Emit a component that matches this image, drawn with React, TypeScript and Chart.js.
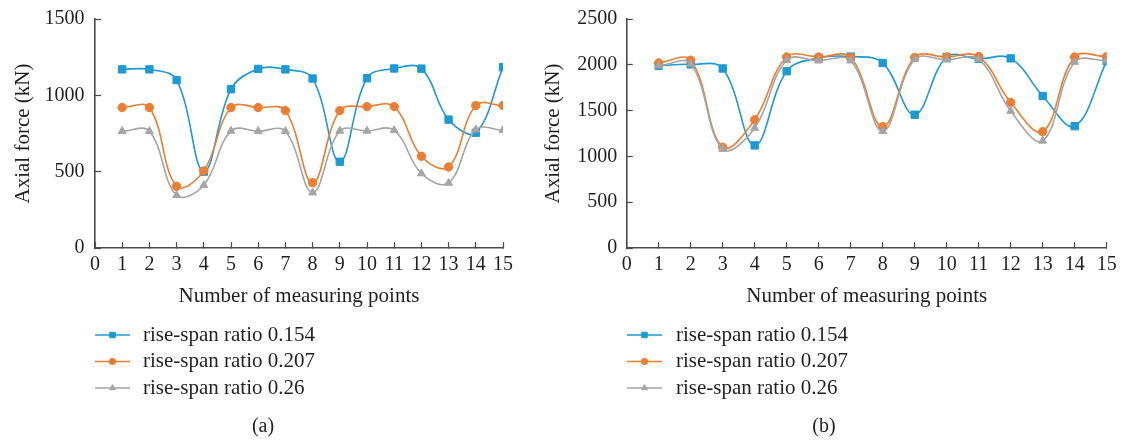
import React, { useEffect, useRef } from "react";
import { Chart, registerables } from "chart.js";
import { drawPoint } from "chart.js/helpers";

Chart.register(...registerables);

// Measuring point numbers along the arch
const measuringPoints = [1, 2, 3, 4, 5, 6, 7, 8, 9, 10, 11, 12, 13, 14, 15];

// (a) axial force, kN
const axialA_0154 = [1170, 1170, 1100, 500, 1040, 1173, 1170, 1110, 565, 1112, 1176, 1175, 841, 755, 1184];
const axialA_0207 = [920, 920, 404, 505, 920, 920, 900, 428, 900, 926, 926, 601, 531, 933, 933];
const axialA_026 = [765, 765, 345, 411, 767, 765, 765, 363, 767, 767, 771, 488, 426, 775, 772];

// (b) axial force, kN
const axialB_0154 = [1990, 2005, 1960, 1120, 1930, 2075, 2090, 2020, 1455, 2085, 2065, 2070, 1660, 1330, 2040];
const axialB_0207 = [2020, 2050, 1100, 1400, 2085, 2085, 2080, 1325, 2080, 2085, 2090, 1590, 1270, 2085, 2090];
const axialB_026 = [1990, 2010, 1080, 1310, 2050, 2045, 2045, 1275, 2060, 2055, 2060, 1495, 1170, 2030, 2045];

const seriesNames = ["rise-span ratio 0.154", "rise-span ratio 0.207", "rise-span ratio 0.26"];
const seriesColors = ["#1b9ad6", "#ed7d31", "#a5a5a5"];
const seriesMarkers = ["rect", "circle", "triangle"];
const markerRadius = [5.2, 4.2, 4.6];

const xAxisTitle = "Number of measuring points";
const yAxisTitle = "Axial force (kN)";

const SERIF = "'Liberation Serif', 'Times New Roman', serif";
const TEXT = "#231f20";
const AXIS = "#4a4a4a";

// Vertical legend + panel caption drawn under the plot
const panelLegend = {
  id: "panelLegend",
  afterDraw(chart: any, _args: any, opts: any) {
    const ctx = chart.ctx;
    ctx.save();
    chart.data.datasets.forEach((ds: any, i: number) => {
      const y = opts.rowY[i];
      ctx.strokeStyle = ds.borderColor;
      ctx.lineWidth = 1.5;
      ctx.beginPath();
      ctx.moveTo(opts.lineX0, y);
      ctx.lineTo(opts.lineX1, y);
      ctx.stroke();
      ctx.fillStyle = ds.backgroundColor;
      ctx.strokeStyle = ds.borderColor;
      ctx.lineWidth = 1;
      drawPoint(
        ctx,
        { pointStyle: ds.pointStyle, rotation: 0, radius: ds.pointRadius * 0.75, borderWidth: 1 } as any,
        (opts.lineX0 + opts.lineX1) / 2,
        y
      );
      ctx.fillStyle = TEXT;
      ctx.font = `21px ${SERIF}`;
      ctx.textAlign = "left";
      ctx.textBaseline = "middle";
      ctx.fillText(ds.label, opts.textX, y);
    });
    ctx.font = `20px ${SERIF}`;
    ctx.textAlign = "center";
    ctx.textBaseline = "middle";
    ctx.fillStyle = TEXT;
    ctx.fillText(opts.caption, opts.captionX, opts.captionY);
    ctx.restore();
  },
};

type PanelSpec = {
  series: number[][];
  yMax: number;
  padLeft: number;
  padRight: number;
  yAxisWidth: number;
  yTickPad: number;
  legend: any;
};

function buildConfig(p: PanelSpec): any {
  const datasets = p.series.map((vals, i) => ({
    label: seriesNames[i],
    data: measuringPoints.map((x, k) => ({ x, y: vals[k] })),
    borderColor: seriesColors[i],
    backgroundColor: seriesColors[i],
    pointStyle: seriesMarkers[i],
    pointRadius: markerRadius[i],
    pointBorderWidth: 1,
    borderWidth: 1.6,
    tension: 0.38,
    fill: false,
    order: 2 - i,
  }));
  return {
    type: "line",
    data: { datasets },
    plugins: [panelLegend],
    options: {
      animation: false,
      responsive: false,
      devicePixelRatio: 1,
      events: [],
      layout: { padding: { left: p.padLeft, right: p.padRight, top: 19, bottom: 132 } },
      plugins: {
        legend: { display: false },
        tooltip: { enabled: false },
        panelLegend: p.legend,
      },
      scales: {
        x: {
          type: "linear",
          min: 0,
          max: 15,
          ticks: {
            stepSize: 1,
            color: TEXT,
            font: { family: SERIF, size: 20 },
            padding: 11,
            maxRotation: 0,
            callback: (v: number) => String(v),
          },
          grid: { drawOnChartArea: false, tickLength: -6, tickColor: AXIS, tickWidth: 1.2 },
          border: { color: AXIS, width: 1.6 },
          title: { display: true, text: xAxisTitle, color: TEXT, font: { family: SERIF, size: 21 }, padding: 0 },
          afterFit(scale: any) {
            scale.height = 61;
            scale.paddingLeft = 0;
            scale.paddingRight = 0;
          },
        },
        y: {
          type: "linear",
          min: 0,
          max: p.yMax,
          ticks: {
            stepSize: 500,
            color: TEXT,
            font: { family: SERIF, size: 20 },
            padding: p.yTickPad,
            callback: (v: number) => String(v),
          },
          grid: { drawOnChartArea: false, tickLength: -6, tickColor: AXIS, tickWidth: 1.2 },
          border: { color: AXIS, width: 1.6 },
          title: { display: true, text: yAxisTitle, color: TEXT, font: { family: SERIF, size: 21 }, padding: 0 },
          afterFit(scale: any) {
            scale.width = p.yAxisWidth;
            scale.paddingTop = 0;
            scale.paddingBottom = 0;
          },
        },
      },
    },
  };
}

const panels: PanelSpec[] = [
  {
    series: [axialA_0154, axialA_0207, axialA_026],
    yMax: 1500,
    padLeft: 10.4,
    padRight: 620,
    yAxisWidth: 84.6,
    yTickPad: 16.5,
    legend: { lineX0: 95, lineX1: 130, textX: 143, rowY: [335, 361.5, 388], caption: "(a)", captionX: 263, captionY: 427 },
  },
  {
    series: [axialB_0154, axialB_0207, axialB_026],
    yMax: 2500,
    padLeft: 540.4,
    padRight: 16.3,
    yAxisWidth: 86.3,
    yTickPad: 15.5,
    legend: { lineX0: 627, lineX1: 662, textX: 676, rowY: [335, 361.5, 388], caption: "(b)", captionX: 824, captionY: 427 },
  },
];

function Panel({ spec }: { spec: PanelSpec }) {
  const ref = useRef<HTMLCanvasElement | null>(null);
  useEffect(() => {
    if (!ref.current) return;
    const chart = new Chart(ref.current, buildConfig(spec));
    return () => chart.destroy();
  }, [spec]);
  return (
    <canvas
      ref={ref}
      width={1123}
      height={441}
      style={{ position: "absolute", left: 0, top: 0, width: 1123, height: 441 }}
    />
  );
}

export default function App() {
  return (
    <div style={{ position: "fixed", left: 0, top: 0, width: 1123, height: 441, background: "#ffffff" }}>
      {panels.map((p, i) => (
        <Panel key={i} spec={p} />
      ))}
    </div>
  );
}
